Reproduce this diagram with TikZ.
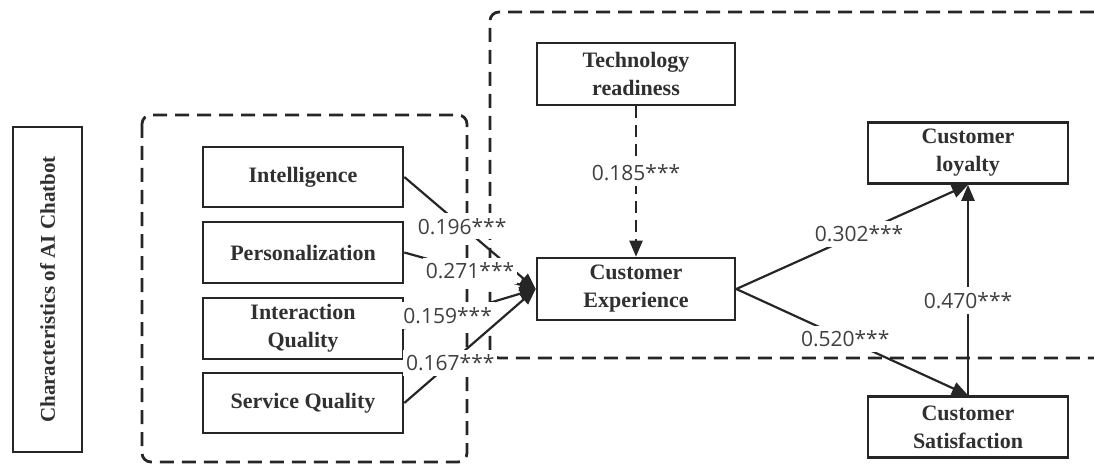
\documentclass[tikz,border=0pt]{standalone}
\usepackage{fontspec}
\setmainfont{Liberation Serif}
\newfontfamily\labelfont{Open Sans}
\usetikzlibrary{arrows.meta}
\definecolor{ink}{HTML}{262626}
\definecolor{txt}{HTML}{303030}
\definecolor{lbl}{HTML}{404040}
\begin{document}
\begin{tikzpicture}[x=1pt,y=-1pt,
 box/.style={draw=ink, line width=2.6pt, fill=white, minimum width=200pt, minimum height=61pt, align=center, font=\fontsize{22}{28}\selectfont\bfseries, text=txt, inner sep=0pt},
 region/.style={draw=ink, line width=2.8pt, dash pattern=on 14pt off 8pt, rounded corners=9pt},
 link/.style={draw=ink, line width=2.2pt, -{Triangle[length=16pt,width=13pt]}},
 dlink/.style={link, dash pattern=on 12pt off 7pt},
 coef/.style={font=\labelfont\fontsize{21}{24}\selectfont, text=lbl, fill=white, inner xsep=3pt, inner ysep=5pt},
]
\useasboundingbox (0,0) rectangle (1094,465);

% nodes
\node[box, rotate=90, minimum width=325pt, minimum height=69pt, font=\fontsize{21}{26}\selectfont\bfseries] (char) at (47.5,289.5) {Characteristics of AI Chatbot};
\node[box, minimum height=60pt] (intel) at (303,177) {Intelligence};
\node[box] (pers) at (303,252.5) {Personalization};
\node[box] (inter) at (303,328.5) {Interaction\\Quality};
\node[box, minimum height=60pt] (serv) at (303,403) {Service Quality};
\node[box, minimum width=198pt, minimum height=62pt] (tech) at (636,74) {Technology\\readiness};
\node[box, minimum width=198pt, minimum height=62pt] (ce) at (636,289) {Customer\\Experience};
\node[box] (loy) at (968,153) {Customer\\loyalty};
\node[box] (sat) at (968,427) {Customer\\Satisfaction};

% dashed regions
\draw[region] (142,115) rectangle (467,462);
\draw[region] (1094,12) -- (490,12) -- (490,358) -- (1094,358);

% connectors
\draw[link] (intel.east) -- node[coef, pos=0.44] {0.196***} (ce.west);
\draw[link] (pers.east) -- node[coef, pos=0.5] {0.271***} (ce.west);
\draw[link] (inter.east) -- node[coef, pos=0.33] {0.159***} (ce.west);
\draw[link] (serv.east) -- node[coef, pos=0.35] {0.167***} (ce.west);
\draw[dlink] (tech.south) -- node[coef, pos=0.44] {0.185***} (ce.north);
\draw[link] (ce.east) -- node[coef, pos=0.53] {0.302***} (loy.south);
\draw[link] (ce.east) -- node[coef, pos=0.47] {0.520***} (sat.north);
\draw[link] (sat.north) -- node[coef, pos=0.45] {0.470***} (loy.south);
\end{tikzpicture}
\end{document}
